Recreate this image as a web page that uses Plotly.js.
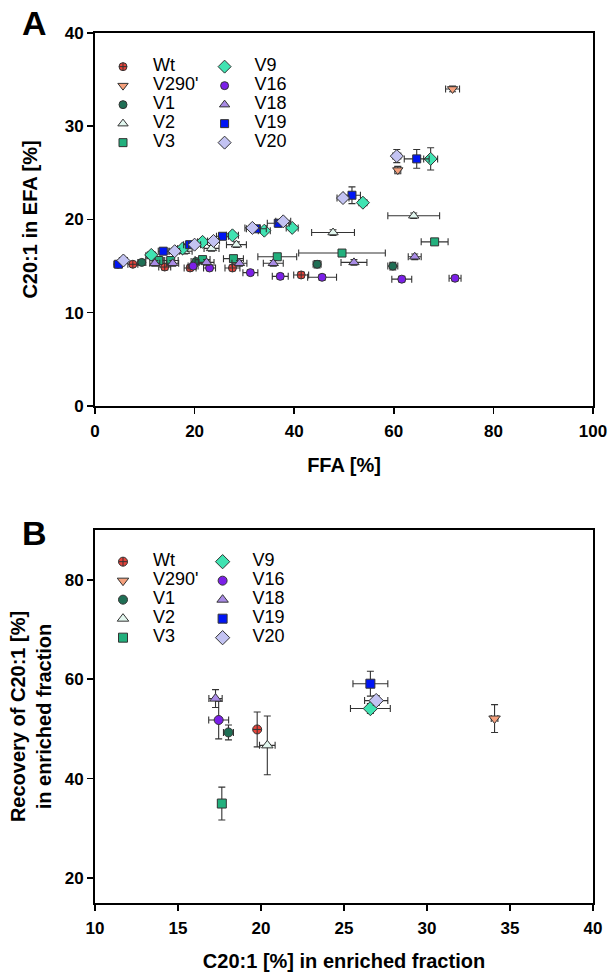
<!DOCTYPE html>
<html>
<head>
<meta charset="utf-8">
<script src="https://cdn.plot.ly/plotly-3.0.1.min.js"></script>
<style>html,body{margin:0;padding:0;background:#fff;}#chart{width:610px;height:972px;}</style>
</head>
<body>
<div id="chart"></div>
<script>
// ---------- Panel A data: FFA [%] vs C20:1 in EFA [%] ----------
const seriesNames = ["Wt", "V290'", "V1", "V2", "V3", "V9", "V16", "V18", "V19", "V20"];

const wtX = [7.6, 14.0, 19.1, 27.6, 41.4];
const wtY = [15.2, 14.9, 14.8, 14.8, 14.05];
const wtXerr = [1.0, 1.2, 1.2, 1.5, 1.5];
const wtYerr = [0.2, 0.3, 0.3, 0.3, 0.3];

const v290X = [60.8, 71.8];
const v290Y = [25.3, 34.0];
const v290Xerr = [0.6, 1.4];
const v290Yerr = [0.4, 0.3];

const v1X = [9.4, 20.3, 44.6, 59.8];
const v1Y = [15.4, 15.5, 15.2, 15.0];
const v1Xerr = [0.8, 1.0, 0.8, 1.0];
const v1Yerr = [0.3, 0.3, 0.4, 0.4];

const v2X = [11.2, 18.0, 23.4, 28.4, 47.8, 64.0];
const v2Y = [16.1, 16.6, 16.9, 17.3, 18.6, 20.4];
const v2Xerr = [1.0, 1.5, 1.5, 2.0, 4.3, 5.2];
const v2Yerr = [0.3, 0.3, 0.3, 0.3, 0.3, 0.3];

const v3X = [12.8, 15.2, 21.6, 27.8, 36.6, 49.6, 68.2];
const v3Y = [15.6, 15.6, 15.7, 15.8, 16.0, 16.4, 17.6];
const v3Xerr = [1.2, 1.5, 1.5, 2.0, 3.9, 8.7, 2.7];
const v3Yerr = [0.3, 0.3, 0.3, 0.3, 0.3, 0.3, 0.3];

const v9X = [11.3, 17.6, 21.6, 27.6, 34.0, 39.6, 53.8, 67.4];
const v9Y = [16.2, 16.9, 17.6, 18.3, 18.8, 19.1, 21.8, 26.5];
const v9Xerr = [0.8, 1.0, 1.0, 1.2, 1.2, 1.2, 0.8, 1.4];
const v9Yerr = [0.3, 0.3, 0.3, 0.3, 0.3, 0.3, 0.3, 1.2];

const v16X = [4.6, 19.7, 23.0, 31.2, 37.2, 45.6, 61.6, 72.3];
const v16Y = [15.2, 15.0, 14.8, 14.3, 13.9, 13.8, 13.6, 13.7];
const v16Xerr = [0.8, 1.0, 1.2, 1.5, 1.6, 2.9, 2.0, 1.2];
const v16Yerr = [0.3, 0.3, 0.3, 0.3, 0.3, 0.3, 0.3, 0.3];

const v18X = [12.0, 15.6, 22.4, 29.0, 35.8, 52.0, 64.2];
const v18Y = [15.3, 15.3, 15.4, 15.3, 15.3, 15.4, 16.0];
const v18Xerr = [1.0, 1.2, 1.5, 1.5, 2.0, 2.6, 1.3];
const v18Yerr = [0.3, 0.3, 0.3, 0.3, 0.3, 0.3, 0.3];

const v19X = [4.7, 13.7, 19.0, 25.6, 32.4, 36.8, 51.6, 64.6];
const v19Y = [15.2, 16.6, 17.3, 18.2, 19.0, 19.6, 22.6, 26.5];
const v19Xerr = [0.8, 1.0, 1.2, 1.2, 2.0, 2.2, 1.7, 2.5];
const v19Yerr = [0.3, 0.3, 0.3, 0.3, 0.3, 0.4, 0.9, 1.0];

const v20X = [5.7, 16.0, 20.0, 23.8, 31.6, 37.8, 49.8, 60.6];
const v20Y = [15.6, 16.6, 17.3, 17.7, 19.1, 19.8, 22.3, 26.8];
const v20Xerr = [0.8, 1.0, 1.2, 1.2, 1.5, 1.5, 1.2, 0.8];
const v20Yerr = [0.3, 0.3, 0.3, 0.3, 0.3, 0.3, 0.3, 0.7];

// ---------- Panel B data: C20:1 in enriched fraction vs recovery ----------
const bX    = [19.77, 34.07, 18.04, 20.38, 17.64, 26.59, 17.45, 17.26, 26.59, 26.94];
const bY    = [49.9, 52.1, 49.3, 46.7, 35.0, 54.1, 51.8, 56.1, 59.1, 55.7];
const bXerr = [0.12, 0.2, 0.3, 0.47, 0.15, 1.2, 0.6, 0.4, 1.05, 0.7];
const bYerr = [3.5, 2.8, 1.5, 5.9, 3.3, 1.0, 3.8, 1.8, 2.5, 1.0];

// ---------- styles ----------
const styles = [
  {symbol: 'circle-cross', color: '#e8433a', size: 8},
  {symbol: 'triangle-down', color: '#f5a07c', size: 9},
  {symbol: 'circle', color: '#1f6f55', size: 8},
  {symbol: 'triangle-up', color: '#e2f7ef', size: 9},
  {symbol: 'square', color: '#22b07d', size: 8},
  {symbol: 'diamond', color: '#40e3b2', size: 10},
  {symbol: 'circle', color: '#7b1fe8', size: 8},
  {symbol: 'triangle-up', color: '#a98be6', size: 9},
  {symbol: 'square', color: '#0015f5', size: 8},
  {symbol: 'diamond', color: '#c3c3f2', size: 10}
];

const panelA = [
  [wtX, wtY, wtXerr, wtYerr],
  [v290X, v290Y, v290Xerr, v290Yerr],
  [v1X, v1Y, v1Xerr, v1Yerr],
  [v2X, v2Y, v2Xerr, v2Yerr],
  [v3X, v3Y, v3Xerr, v3Yerr],
  [v9X, v9Y, v9Xerr, v9Yerr],
  [v16X, v16Y, v16Xerr, v16Yerr],
  [v18X, v18Y, v18Xerr, v18Yerr],
  [v19X, v19Y, v19Xerr, v19Yerr],
  [v20X, v20Y, v20Xerr, v20Yerr]
];

const errStyle = {color: '#333', thickness: 1.1, width: 3.5};
const legLabel = n => '<span style="font-size:18px">' + n + '</span>';

const traces = [];
panelA.forEach((d, i) => {
  const s = styles[i];
  traces.push({
    type: 'scatter', mode: 'markers', name: legLabel(seriesNames[i]),
    x: d[0], y: d[1], xaxis: 'x', yaxis: 'y',
    legend: i < 5 ? 'legend' : 'legend2',
    error_x: Object.assign({type: 'data', array: d[2], visible: true}, errStyle),
    error_y: Object.assign({type: 'data', array: d[3], visible: true}, errStyle),
    marker: {symbol: s.symbol, color: s.color, size: s.size, line: {color: '#333', width: 1}}
  });
});
seriesNames.forEach((n, i) => {
  const s = styles[i];
  traces.push({
    type: 'scatter', mode: 'markers', name: legLabel(n),
    x: [bX[i]], y: [bY[i]], xaxis: 'x2', yaxis: 'y2',
    legend: i < 5 ? 'legend3' : 'legend4',
    error_x: Object.assign({type: 'data', array: [bXerr[i]], visible: true}, errStyle),
    error_y: Object.assign({type: 'data', array: [bYerr[i]], visible: true}, errStyle),
    marker: {symbol: s.symbol, color: s.color, size: s.size + 1, line: {color: '#333', width: 1}}
  });
});

const tickFont = {family: 'Liberation Sans, Arial, sans-serif', size: 17, color: '#000', weight: 'bold'};
const titleFont = {family: 'Liberation Sans, Arial, sans-serif', size: 20, color: '#000', weight: 'bold'};
const axBase = {
  showline: true, linecolor: '#000', linewidth: 2, mirror: true,
  ticks: 'outside', ticklen: 6, tickwidth: 1.5, tickcolor: '#000',
  showgrid: false, zeroline: false, automargin: false, tickfont: tickFont, fixedrange: true
};
const legBase = {
  font: {family: 'Liberation Sans, Arial, sans-serif', size: 11, color: '#000'},
  bgcolor: 'rgba(0,0,0,0)', borderwidth: 0, xanchor: 'left', yanchor: 'top',
  itemwidth: 50, tracegroupgap: 0, itemclick: false, itemdoubleclick: false
};

const layout = {
  width: 610, height: 972,
  margin: {l: 95, r: 17, t: 33, b: 69},
  paper_bgcolor: '#fff', plot_bgcolor: '#fff',
  font: {family: 'Liberation Sans, Arial, sans-serif', color: '#000'},
  xaxis: Object.assign({}, axBase, {domain: [0, 1], anchor: 'y', range: [0, 100], tickvals: [0, 20, 40, 60, 80, 100],
    ticklabelstandoff: 3, title: {text: 'FFA [%]', font: titleFont, standoff: 18}}),
  yaxis: Object.assign({}, axBase, {domain: [0.5713, 1], anchor: 'x', range: [0, 40], tickvals: [0, 10, 20, 30, 40],
    title: {text: 'C20:1 in EFA [%]', font: titleFont, standoff: 22}}),
  xaxis2: Object.assign({}, axBase, {domain: [0, 1], anchor: 'y2', range: [10, 40], tickvals: [10, 15, 20, 25, 30, 35, 40],
    ticklabelstandoff: 3, title: {text: 'C20:1 [%] in enriched fraction', font: titleFont, standoff: 19}}),
  yaxis2: Object.assign({}, axBase, {domain: [0, 0.4287], anchor: 'x2', range: [15, 90], tickvals: [20, 40, 60, 80],
    title: {text: 'Recovery of C20:1 [%]<br>in enriched fraction', font: titleFont, standoff: 8}}),
  legend: Object.assign({}, legBase, {x: -0.004, y: 0.978}),
  legend2: Object.assign({}, legBase, {x: 0.2, y: 0.978}),
  legend3: Object.assign({}, legBase, {x: -0.004, y: 0.409}),
  legend4: Object.assign({}, legBase, {x: 0.196, y: 0.409}),
  showlegend: true,
  annotations: [
    {text: 'A', xref: 'paper', yref: 'paper', x: -0.122, y: 1.0115, xanchor: 'center', yanchor: 'middle', showarrow: false,
     font: {family: 'Liberation Sans, Arial, sans-serif', size: 34, color: '#000', weight: 'bold'}},
    {text: 'B', xref: 'paper', yref: 'paper', x: -0.122, y: 0.4253, xanchor: 'center', yanchor: 'middle', showarrow: false,
     font: {family: 'Liberation Sans, Arial, sans-serif', size: 34, color: '#000', weight: 'bold'}}
  ]
};

Plotly.newPlot('chart', traces, layout, {displayModeBar: false, staticPlot: true});
</script>
</body>
</html>
